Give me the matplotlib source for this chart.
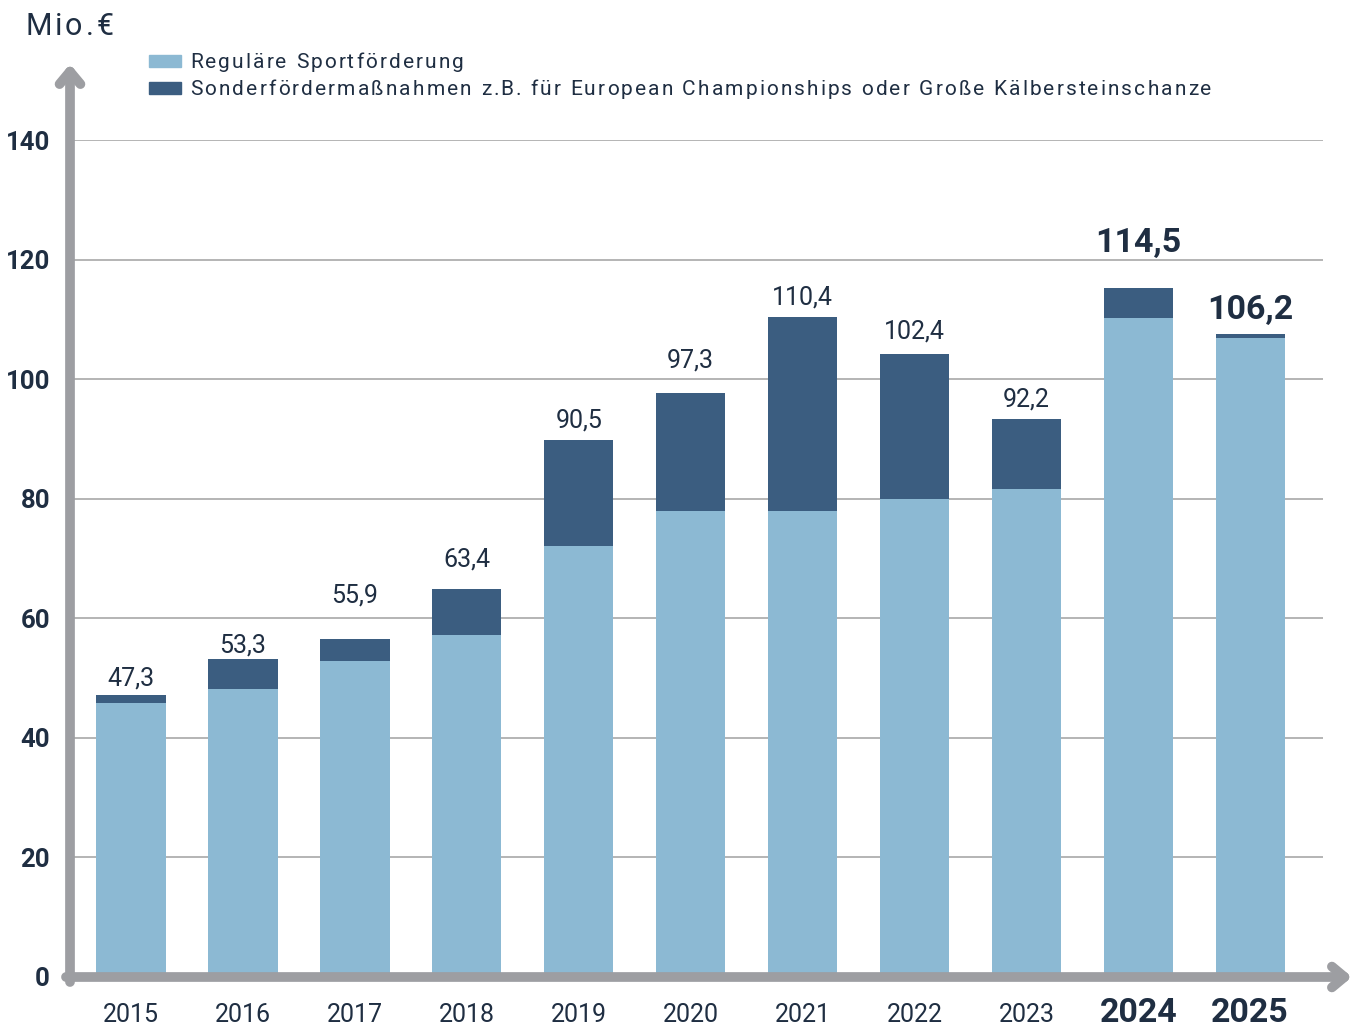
import matplotlib
matplotlib.use('Agg')
import matplotlib.pyplot as plt
from matplotlib.patches import Rectangle
from matplotlib import font_manager
from matplotlib.ft2font import FT2Font, LOAD_NO_HINTING

# data
years = ['2015', '2016', '2017', '2018', '2019', '2020', '2021', '2022', '2023', '2024', '2025']
regular = [45.8, 48.2, 52.9, 57.2, 72.1, 77.9, 77.9, 79.9, 81.6, 110.2, 106.9]
special = [1.4, 5.0, 3.6, 7.7, 17.7, 19.8, 32.5, 24.3, 11.7, 5.0, 0.6]
totals = ['47,3', '53,3', '55,9', '63,4', '90,5', '97,3', '110,4', '102,4', '92,2', '114,5', '106,2']
highlight = ['2024', '2025']
legend_labels = ['Reguläre Sportförderung',
                 'Sonderfördermaßnahmen z.B. für European Championships oder Große Kälbersteinschanze']
yticks = [0, 20, 40, 60, 80, 100, 120, 140]

# gap (px) between bar top and label baseline, as in the reference
label_gap = [9, 6, 37, 22, 13, 25, 12, 16, 13, 36, 15]

light = '#8cb9d3'
dark = '#3b5d80'
txt = '#1f2e42'
axis_grey = '#9d9ea2'

plt.rcParams['font.family'] = ['Roboto', 'DejaVu Sans']

W, H = 1360, 1028
PT = 0.72  # points per pixel at dpi 100


def spaced_text(fig, x_px, y_px, s, size, tracking, **kw):
    # draw text char by char with extra letter spacing (pixels)
    path = font_manager.findfont(font_manager.FontProperties(family='Roboto', weight=kw.get('fontweight', 'normal')))
    ft = FT2Font(path)
    ft.set_size(size, 100)
    x = x_px
    for c in s:
        if c != ' ':
            fig.text(x / W, 1 - y_px / H, c, fontsize=size, color=txt, ha='left', va='baseline', **kw)
        g = ft.load_char(ord(c), flags=LOAD_NO_HINTING)
        x += g.linearHoriAdvance / 65536 + tracking


fig = plt.figure(figsize=(W / 100, H / 100), dpi=100)
ax = fig.add_axes([70 / W, (H - 977) / H, 1253 / W, 837 / H])

x = list(range(len(years)))
ax.bar(x, regular, width=0.62, color=light, zorder=2)
ax.bar(x, special, bottom=regular, width=0.62, color=dark, zorder=2)

ax.set_xlim(-0.545, len(years) - 1 + 0.65)
ax.set_ylim(0, 140)

for s in ax.spines.values():
    s.set_visible(False)
ax.set_yticks(yticks)
ax.set_yticklabels([])
ax.set_xticks([])
ax.yaxis.grid(True, color='#a8a8a8', lw=1.2, zorder=0)
ax.tick_params(axis='y', length=0)

# y labels
for v in yticks:
    ax.annotate(str(v), (-0.545, v), xytext=(-20 * PT, -9.5 * PT), textcoords='offset points',
                ha='right', va='baseline', fontsize=18.5, fontweight='bold', color=txt,
                annotation_clip=False)

# year labels
for i, yr in enumerate(years):
    big = yr in highlight
    ax.annotate(yr, (i, 0), xytext=(0, -45 * PT), textcoords='offset points',
                ha='center', va='baseline', color=txt, annotation_clip=False,
                fontsize=24.5 if big else 18, fontweight='bold' if big else 'normal')

# value labels on top of each stack
for i, (r, s, t) in enumerate(zip(regular, special, totals)):
    big = years[i] in highlight
    ax.annotate(t, (i, r + s), xytext=(0, label_gap[i] * PT), textcoords='offset points',
                ha='center', va='baseline', color=txt,
                fontsize=24.5 if big else 18, fontweight='bold' if big else 'normal')

# axis arrows
ax.annotate('', xy=(70 / W, (H - 64) / H), xytext=(70 / W, (H - 982) / H),
            xycoords='figure fraction', textcoords='figure fraction',
            arrowprops=dict(arrowstyle='->,head_length=0.9,head_width=0.75', lw=7,
                            color=axis_grey, shrinkA=0, shrinkB=0))
ax.annotate('', xy=(1352 / W, (H - 977) / H), xytext=(66 / W, (H - 977) / H),
            xycoords='figure fraction', textcoords='figure fraction',
            arrowprops=dict(arrowstyle='->,head_length=0.9,head_width=0.75', lw=7,
                            color=axis_grey, shrinkA=0, shrinkB=0))

spaced_text(fig, 25, 35, 'Mio.€', 22, 3.0)

# legend
for k, (lbl, col) in enumerate(zip(legend_labels, [light, dark])):
    yc = 61 + 27 * k
    fig.patches.append(Rectangle((149 / W, 1 - (yc + 6) / H), 32 / W, 12 / H,
                                 transform=fig.transFigure, color=col))
    spaced_text(fig, 190, yc + 7, lbl, 15, 2.1)

fig.savefig('out.png', dpi=100)
